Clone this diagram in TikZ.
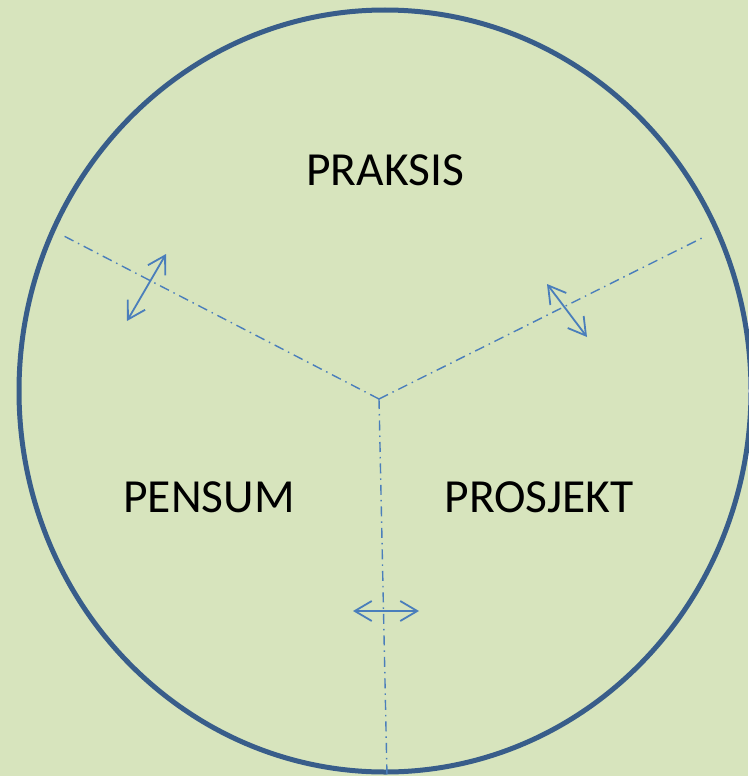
\documentclass[tikz,border=0pt]{standalone}
\usepackage{fontspec}
\setmainfont{Carlito}
\usetikzlibrary{arrows.meta}
\definecolor{FieldGreen}{HTML}{D7E4BD}
\definecolor{RingBlue}{HTML}{385D8A}
\definecolor{SplitBlue}{HTML}{4A7EBB}

\begin{document}
\begin{tikzpicture}[
  x=1pt,y=-1pt,
  every node/.style={font=\fontsize{47.5}{56}\selectfont,text=black},
  ring/.style={draw=RingBlue,line width=5pt},
  divider/.style={draw=SplitBlue,line width=1.4pt,dash pattern=on 10pt off 5pt on 1.5pt off 5pt},
  swap/.style={draw=SplitBlue,line width=1.8pt,{Straight Barb[length=17pt,width=20pt]}-{Straight Barb[length=17pt,width=20pt]}}
]
  \fill[FieldGreen] (0,0) rectangle (748,776);
  \useasboundingbox (0,0) rectangle (748,776);

  \draw[ring] (385,391) ellipse [x radius=366, y radius=381];

  \coordinate (hub) at (379,399);
  \coordinate (leftend) at (62,235);
  \coordinate (rightend) at (706,236);
  \coordinate (bottomend) at (387,776);

  \draw[divider] (hub) -- (leftend);
  \draw[divider] (hub) -- (rightend);
  \draw[divider] (hub) -- (bottomend);

  \node (praksis) at (385,170) {PRAKSIS};
  \node (pensum) at (209,497) {PENSUM};
  \node (prosjekt) at (539,497) {PROSJEKT};

  \coordinate (la) at (127,321);
  \coordinate (lb) at (166,254);
  \coordinate (ra) at (547,284);
  \coordinate (rb) at (587,337);
  \coordinate (ba) at (353,611);
  \coordinate (bb) at (419,611);

  \draw[swap] (la) -- (lb);
  \draw[swap] (ra) -- (rb);
  \draw[swap] (ba) -- (bb);
\end{tikzpicture}
\end{document}
